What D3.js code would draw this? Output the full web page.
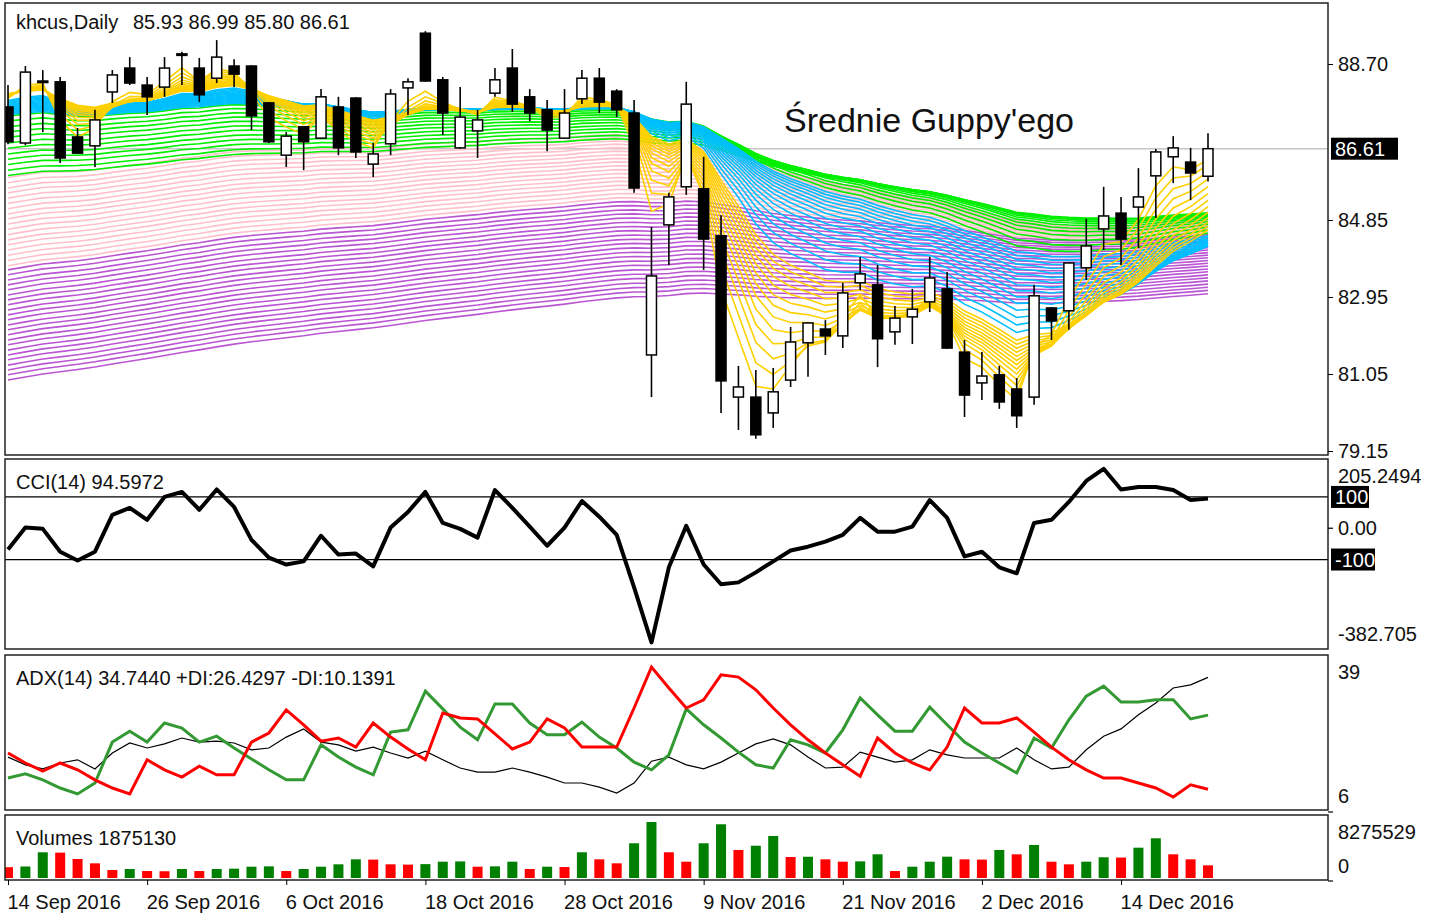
<!DOCTYPE html>
<html>
<head>
<meta charset="utf-8">
<script src="https://cdn.jsdelivr.net/npm/d3@7"></script>
<style>
  body { margin: 0; background: #fff; }
  svg { display: block; font-family: "Liberation Sans", Arial, sans-serif; }
</style>
</head>
<body>
<div id="chart"></div>
<script>
// trading days shown on the chart
var dates = ["2016-09-14","2016-09-15","2016-09-16","2016-09-19","2016-09-20","2016-09-21","2016-09-22","2016-09-23","2016-09-26","2016-09-27","2016-09-28","2016-09-29","2016-09-30",
  "2016-10-03","2016-10-04","2016-10-05","2016-10-06","2016-10-07","2016-10-10","2016-10-11","2016-10-12","2016-10-13","2016-10-14","2016-10-17","2016-10-18","2016-10-19","2016-10-20","2016-10-21","2016-10-24","2016-10-25","2016-10-26","2016-10-27","2016-10-28","2016-10-31",
  "2016-11-01","2016-11-02","2016-11-03","2016-11-04","2016-11-07","2016-11-08","2016-11-09","2016-11-10","2016-11-11","2016-11-14","2016-11-15","2016-11-16","2016-11-17","2016-11-18","2016-11-21","2016-11-22","2016-11-23","2016-11-25","2016-11-28","2016-11-29","2016-11-30",
  "2016-12-01","2016-12-02","2016-12-05","2016-12-06","2016-12-07","2016-12-08","2016-12-09","2016-12-12","2016-12-13","2016-12-14","2016-12-15","2016-12-16","2016-12-19","2016-12-20","2016-12-21"];

// daily OHLC (khcus)
var opens  = [87.64,86.75,88.28,88.26,86.90,86.68,88.01,88.60,88.18,88.13,88.95,88.60,88.35,88.65,88.65,87.74,86.45,87.15,86.87,87.64,87.86,86.23,86.73,88.11,89.46,88.31,86.63,87.05,87.98,88.60,87.89,87.57,86.87,87.84,88.35,88.03,
              87.49,81.52,84.73,85.67,85.62,84.46,80.48,80.48,80.09,80.90,81.82,82.16,81.99,83.30,83.25,82.09,82.46,82.83,83.15,81.59,80.83,81.03,80.68,80.48,82.68,82.61,83.67,84.63,85.02,85.17,85.94,86.41,86.28,85.93];
var highs  = [88.18,88.65,88.55,88.38,87.12,87.57,88.55,88.87,88.38,88.87,89.00,88.85,89.29,88.82,88.67,87.76,87.02,87.17,88.08,87.89,87.88,86.75,88.08,88.35,89.51,88.38,88.13,87.57,88.60,89.07,88.08,87.81,88.08,88.55,88.60,88.08,
              87.81,84.68,85.52,88.26,86.41,84.97,81.25,81.15,81.20,82.21,82.33,82.38,83.30,83.94,83.74,82.73,83.15,83.94,83.57,81.89,81.59,81.25,80.95,83.25,82.70,83.81,84.88,85.67,85.42,86.13,86.60,86.92,86.63,86.99];
var lows   = [86.72,86.70,87.02,86.26,86.48,86.16,87.74,88.18,87.44,87.89,88.18,87.76,88.23,88.13,87.07,86.75,86.16,86.08,86.85,86.45,86.38,85.91,86.45,87.44,88.26,86.95,86.61,86.38,87.89,87.52,87.29,86.55,86.85,87.71,87.49,87.39,
              85.52,80.48,83.74,85.47,83.62,80.09,79.67,79.45,79.72,80.73,80.98,81.52,81.69,83.12,81.22,81.77,81.79,82.58,81.67,79.99,80.41,80.19,79.72,80.29,81.89,82.14,83.37,84.11,83.74,84.16,84.90,85.76,85.34,85.80];
var closes = [86.78,88.50,88.27,86.38,86.50,87.32,88.43,88.23,87.89,88.60,88.94,87.94,88.87,88.45,87.42,86.78,86.92,86.78,87.89,86.63,86.53,86.48,87.96,88.26,88.28,87.49,87.39,87.32,88.31,87.71,87.49,87.07,87.49,88.35,87.76,87.57,
              85.64,83.47,85.42,87.71,84.38,80.88,80.73,79.55,80.61,81.84,82.31,81.99,83.05,83.52,81.92,82.43,82.65,83.42,81.69,80.53,81.00,80.36,80.02,82.98,82.36,83.79,84.21,84.95,84.38,85.42,86.53,86.63,86.01,86.61];

// Guppy moving averages: EMA periods and each line's value on the first bar
var yellowPeriods = [3,4,5,6,7,8,9,10,11,12,13,14,15];
var yellowStart   = [87.85,87.87,87.89,87.91,87.92,87.93,87.94,87.95,87.95,87.96,87.96,87.96,87.96];
var cyanPeriods   = [17,19,21,23,25,27,29,31,33,35,37,39,41,43,45];
var cyanStart     = [87.80,87.78,87.75,87.73,87.70,87.68,87.65,87.63,87.60,87.58,87.55,87.53,87.50,87.48,87.45];
var greenPeriods  = [48,52,56,60,64,68,72,76,80,84,88,92];
var greenStart    = [87.42,87.29,87.15,87.02,86.89,86.75,86.62,86.48,86.35,86.22,86.08,85.95];
var pinkPeriods   = [75,78,81,84,87,90,93,96,99,102,105,108,111,114,117,120,123,126];
var pinkStart     = [85.90,85.77,85.64,85.52,85.39,85.26,85.13,85.00,84.88,84.75,84.62,84.49,84.36,84.24,84.11,83.98,83.85,83.72];
var purplePeriods = [130,133,136,139,142,145,148,151,154,157,160,163,166,169,172,175,178,181,184,187,190,193,196];
var purpleStart   = [83.62,83.50,83.37,83.25,83.13,83.00,82.88,82.76,82.63,82.51,82.39,82.26,82.14,82.02,81.89,81.77,81.64,81.52,81.40,81.27,81.15,81.03,80.90];

// CCI(14)
var cci = [-68,2,-2,-75,-103,-75,43,65,27,100,116,59,124,68,-37,-94,-116,-106,-24,-84,-81,-122,2,52,116,17,-2,-30,122,65,5,-56,2,87,37,-21,
           -189,-365,-125,8,-116,-179,-173,-141,-106,-71,-59,-43,-21,33,-11,-11,5,90,33,-90,-75,-125,-144,17,27,84,151,190,124,132,132,122,90,94.5972];

// ADX(14), +DI, -DI
var adx = [17.2,15.5,14.6,15.9,16.6,14.6,18.1,20.3,19.2,20.1,21.4,20.5,20.7,20.3,18.8,19.2,21.6,23.4,20.5,19.9,18.5,19.4,18.1,17.0,18.5,16.6,14.8,13.9,13.9,14.8,13.9,12.8,11.5,11.5,10.6,9.3,
           11.5,16.3,17.2,15.5,14.6,16.1,18.1,20.1,21.2,19.9,17.2,14.8,15.0,18.3,17.2,16.1,16.6,18.8,17.7,17.0,17.0,17.0,19.2,16.6,14.6,15.0,18.8,21.8,23.4,26.5,29.1,32.4,33.1,34.744];
var plusDI = [12.6,13.5,12.2,10.4,9.1,11.5,20.5,22.9,20.5,24.7,23.6,20.5,21.8,19.2,16.8,14.4,12.2,12.2,19.9,17.2,15.0,13.3,22.7,23.2,31.7,27.8,23.8,21.0,28.9,28.9,24.7,22.1,22.1,24.9,21.6,19.2,
              16.1,14.4,17.7,27.8,24.3,21.4,18.3,15.5,14.8,21.0,19.9,18.1,23.2,30.2,26.5,22.9,22.9,28.2,24.3,20.5,18.1,15.9,13.7,21.4,19.2,25.4,30.6,32.8,29.3,29.3,29.8,29.8,25.6,26.4297];
var minusDI = [18.1,15.9,14.1,15.9,14.4,12.2,10.4,9.1,16.6,14.4,12.8,15.2,13.3,13.3,20.5,22.5,27.6,24.3,20.7,21.4,19.4,24.7,21.6,19.0,16.6,26.9,25.8,25.6,22.3,19.0,20.5,25.6,23.6,19.4,19.4,19.4,
               28.0,37.0,32.4,28.0,29.8,35.3,34.8,32.0,28.0,24.3,21.0,18.1,15.5,13.0,21.4,18.1,15.9,14.4,19.4,28.0,24.7,24.7,25.8,22.7,19.4,16.6,14.4,12.6,12.6,11.5,10.4,8.4,11.1,10.1391];

// Volumes
var volumes = [1600000,1700000,3800000,3750000,2810000,2170000,1180000,1330000,1030000,1000000,1330000,1030000,1330000,1380000,1670000,1720000,1030000,1330000,1670000,2020000,2760000,2720000,2020000,1980000,2050000,2410000,2450000,1670000,1720000,2410000,1330000,1670000,1620000,3800000,2760000,2170000,
               5130000,8275529,3800000,2410000,5130000,7940000,4140000,4770000,6210000,3100000,3140000,2760000,2410000,2460000,3500000,1030000,1670000,2410000,3150000,2760000,2720000,4140000,3500000,4880000,2410000,2020000,2410000,3060000,3020000,4480000,5870000,3500000,2760000,1875130];

// axis labels
var priceTicks = [88.70, 84.85, 82.95, 81.05, 79.15];
var lastPrice = 86.61;
var cciLevels = [100, -100];
var cciRange = [-382.705, 205.2494];
var adxRange = [6, 39];
var volMax = 8275529;

// layout
var left = 5, right = 1328;
var panes = { main: [3, 455], cci: [459, 649], adx: [655, 810], vol: [815, 880] };
var fontSize = 20;
var textColor = "#111";

var svg = d3.select("#chart").append("svg")
    .attr("width", 1434)
    .attr("height", 917);

var x = d3.scalePoint().domain(dates).range([8, 1208]);
var yPrice = d3.scaleLinear().domain([79.15, 88.70]).range([451, 64]);
var yCci = d3.scaleLinear().domain(cciRange).range([648, 464]);
var yAdx = d3.scaleLinear().domain(adxRange).range([808, 658]);
var yVol = d3.scaleLinear().domain([0, volMax]).range([878, 822]);

var defs = svg.append("defs");
Object.keys(panes).forEach(function(k) {
  defs.append("clipPath").attr("id", "clip-" + k).append("rect")
    .attr("x", left).attr("y", panes[k][0])
    .attr("width", right - left).attr("height", panes[k][1] - panes[k][0]);
});

function xi(i) { return x(dates[i]); }

// ---------- main pane ----------
var mainG = svg.append("g").attr("clip-path", "url(#clip-main)");

mainG.append("line")
    .attr("x1", left).attr("x2", right)
    .attr("y1", yPrice(lastPrice)).attr("y2", yPrice(lastPrice))
    .attr("stroke", "#c6c6c6").attr("stroke-width", 1.5);

function ema(period, start) {
  var k = 2 / (period + 1), out = [start];
  for (var i = 1; i < closes.length; i++) out.push(out[i - 1] + k * (closes[i] - out[i - 1]));
  return out;
}

var guppy = [
  { periods: pinkPeriods,   start: pinkStart,   color: "#ffc0cb" },
  { periods: purplePeriods, start: purpleStart, color: "#ba55d3" },
  { periods: greenPeriods,  start: greenStart,  color: "#00ee00" },
  { periods: cyanPeriods,   start: cyanStart,   color: "#00bfff" },
  { periods: yellowPeriods, start: yellowStart, color: "#ffd000" }
];

var maLine = d3.line()
    .x(function(d, i) { return xi(i); })
    .y(function(d) { return yPrice(d); });

guppy.forEach(function(g) {
  mainG.append("g").selectAll("path")
      .data(g.periods.map(function(p, j) { return ema(p, g.start[j]); }))
    .join("path")
      .attr("d", maLine)
      .attr("fill", "none")
      .attr("stroke", g.color)
      .attr("stroke-width", 1.6);
});

// candles
var idx = d3.range(dates.length);
var candles = mainG.append("g");
candles.selectAll("line")
    .data(idx)
  .join("line")
    .attr("x1", xi).attr("x2", xi)
    .attr("y1", function(i) { return yPrice(highs[i]); })
    .attr("y2", function(i) { return yPrice(lows[i]); })
    .attr("stroke", "#000").attr("stroke-width", 1.6);

candles.selectAll("rect")
    .data(idx)
  .join("rect")
    .attr("x", function(i) { return xi(i) - 5; })
    .attr("width", 10)
    .attr("y", function(i) { return yPrice(Math.max(opens[i], closes[i])); })
    .attr("height", function(i) { return Math.max(1.5, Math.abs(yPrice(opens[i]) - yPrice(closes[i]))); })
    .attr("fill", function(i) { return closes[i] >= opens[i] ? "#fff" : "#000"; })
    .attr("stroke", "#000").attr("stroke-width", 1.5);

svg.append("text")
    .attr("x", 784).attr("y", 132)
    .attr("font-size", 34).attr("fill", textColor)
    .text("Średnie Guppy'ego");

svg.append("text").attr("x", 16).attr("y", 29)
    .attr("font-size", fontSize).attr("fill", textColor).text("khcus,Daily");
svg.append("text").attr("x", 133).attr("y", 29)
    .attr("font-size", fontSize).attr("fill", textColor)
    .text([opens[69], highs[69], lows[69], closes[69]].map(d3.format(".2f")).join(" "));

// ---------- CCI pane ----------
var cciG = svg.append("g").attr("clip-path", "url(#clip-cci)");
cciG.selectAll("line.level")
    .data(cciLevels)
  .join("line")
    .attr("class", "level")
    .attr("x1", left).attr("x2", right)
    .attr("y1", yCci).attr("y2", yCci)
    .attr("stroke", "#000").attr("stroke-width", 1.3);

cciG.append("path")
    .datum(cci)
    .attr("d", d3.line().x(function(d, i) { return xi(i); }).y(yCci))
    .attr("fill", "none").attr("stroke", "#000")
    .attr("stroke-width", 4).attr("stroke-linejoin", "round");

svg.append("text").attr("x", 16).attr("y", 489)
    .attr("font-size", fontSize).attr("fill", textColor)
    .text("CCI(14) " + d3.format(".4f")(cci[cci.length - 1]));

// ---------- ADX pane ----------
var adxG = svg.append("g").attr("clip-path", "url(#clip-adx)");
function seriesLine() {
  return d3.line().x(function(d, i) { return xi(i); }).y(yAdx);
}
adxG.append("path").datum(adx).attr("d", seriesLine())
    .attr("fill", "none").attr("stroke", "#000").attr("stroke-width", 1.2);
adxG.append("path").datum(plusDI).attr("d", seriesLine())
    .attr("fill", "none").attr("stroke", "#339933").attr("stroke-width", 3);
adxG.append("path").datum(minusDI).attr("d", seriesLine())
    .attr("fill", "none").attr("stroke", "#ff0000").attr("stroke-width", 3);

svg.append("text").attr("x", 16).attr("y", 685)
    .attr("font-size", fontSize).attr("fill", textColor)
    .text("ADX(14) " + d3.format(".4f")(adx[adx.length - 1]) +
          " +DI:" + d3.format(".4f")(plusDI[plusDI.length - 1]) +
          " -DI:" + d3.format(".4f")(minusDI[minusDI.length - 1]));

// ---------- Volumes pane ----------
var volG = svg.append("g").attr("clip-path", "url(#clip-vol)");
volG.selectAll("rect")
    .data(idx)
  .join("rect")
    .attr("x", function(i) { return xi(i) - 5; })
    .attr("width", 10)
    .attr("y", function(i) { return yVol(volumes[i]); })
    .attr("height", function(i) { return yVol(0) - yVol(volumes[i]); })
    .attr("fill", function(i) { return i > 0 && volumes[i] > volumes[i - 1] ? "#008000" : "#ff0000"; });

svg.append("text").attr("x", 16).attr("y", 845)
    .attr("font-size", fontSize).attr("fill", textColor)
    .text("Volumes " + volumes[volumes.length - 1]);

// ---------- pane frames ----------
Object.keys(panes).forEach(function(k) {
  svg.append("rect")
      .attr("x", left).attr("y", panes[k][0])
      .attr("width", right - left).attr("height", panes[k][1] - panes[k][0])
      .attr("fill", "none").attr("stroke", "#222").attr("stroke-width", 1.5);
});

// ---------- right scales ----------
var priceAxis = svg.append("g")
    .attr("transform", "translate(" + right + ",0)")
    .call(d3.axisRight(yPrice).tickValues(priceTicks).tickSize(5).tickFormat(d3.format(".2f")));
priceAxis.select(".domain").remove();
priceAxis.selectAll("text").attr("x", 10).attr("font-size", fontSize)
    .attr("font-family", "Liberation Sans, Arial, sans-serif").attr("fill", textColor);

function boxLabel(y, txt, w) {
  svg.append("rect").attr("x", right + 3).attr("y", y - 11).attr("width", w).attr("height", 22).attr("fill", "#000");
  svg.append("text").attr("x", right + 7).attr("y", y).attr("dy", "0.35em")
      .attr("font-size", fontSize).attr("fill", "#fff").text(txt);
}
boxLabel(yPrice(lastPrice), d3.format(".2f")(lastPrice), 67);

function sideLabel(y, txt) {
  svg.append("text").attr("x", right + 10).attr("y", y).attr("dy", "0.35em")
      .attr("font-size", fontSize).attr("fill", textColor).text(txt);
}
function sideTick(y) {
  svg.append("line").attr("x1", right).attr("x2", right + 5).attr("y1", y).attr("y2", y)
      .attr("stroke", "#000").attr("stroke-width", 1.2);
}

// CCI scale
sideLabel(yCci(cciRange[1]) + 12, String(cciRange[1]));
sideTick(yCci(0)); sideLabel(yCci(0), "0.00");
sideLabel(yCci(cciRange[0]) - 14, String(cciRange[0]));
boxLabel(yCci(100), "100", 38);
boxLabel(yCci(-100), "-100", 44);

// ADX scale
sideLabel(yAdx(adxRange[1]) + 14, String(adxRange[1]));
sideTick(yAdx(adxRange[0]) + 4); sideLabel(yAdx(adxRange[0]) - 12, String(adxRange[0]));

// Volume scale
sideLabel(yVol(volMax) + 10, String(volMax));
sideTick(yVol(0) + 3); sideLabel(yVol(0) - 12, "0");

// ---------- time axis ----------
var parse = d3.timeParse("%Y-%m-%d"), fmt = d3.timeFormat("%-d %b %Y");
var tickDates = dates.filter(function(d, i) { return i % 8 === 0; });
var timeAxis = svg.append("g")
    .attr("transform", "translate(0," + panes.vol[1] + ")")
    .call(d3.axisBottom(x).tickValues(tickDates).tickSize(5)
      .tickFormat(function(d) { return fmt(parse(d)); }));
timeAxis.select(".domain").remove();
timeAxis.selectAll("text")
    .attr("text-anchor", "start").attr("x", -1).attr("y", 15)
    .attr("font-size", fontSize).attr("font-family", "Liberation Sans, Arial, sans-serif")
    .attr("fill", textColor);
</script>
</body>
</html>
